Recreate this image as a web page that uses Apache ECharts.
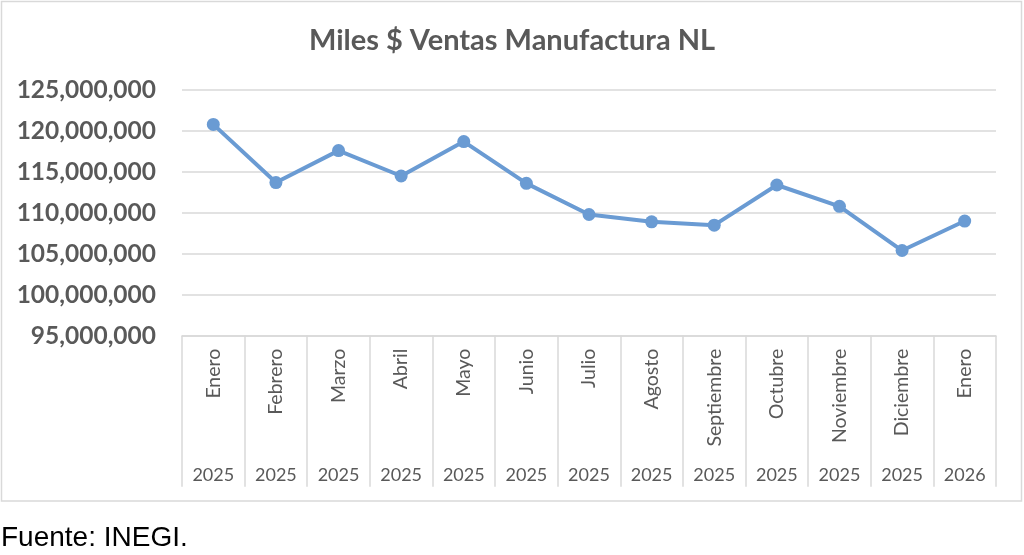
<!DOCTYPE html>
<html>
<head>
<meta charset="utf-8">
<script src="https://cdn.jsdelivr.net/npm/echarts@6/dist/echarts.min.js"></script>
<style>
html,body{margin:0;padding:0;background:#fff;}
#chart{width:1024px;height:555px;}
</style>
</head>
<body>
<div id="chart"></div>
<script>
const months = ["Enero","Febrero","Marzo","Abril","Mayo","Junio","Julio","Agosto","Septiembre","Octubre","Noviembre","Diciembre","Enero"];
const years = ["2025","2025","2025","2025","2025","2025","2025","2025","2025","2025","2025","2025","2026"];
const ventas = [120800000,113700000,117600000,114500000,118700000,113600000,109800000,108900000,108500000,113400000,110800000,105400000,109000000];
const yTicks = {min:95000000, max:125000000, interval:5000000};
const titleText = "Miles $ Ventas Manufactura NL";
const sourceText = "Fuente: INEGI.";

const chart = echarts.init(document.getElementById('chart'), null, {renderer:'canvas'});
const gray = '#595959';
const lineGray = '#d9d9d9';
chart.setOption({
  animation:false,
  title:{
    text:titleText, left:'center', top:21,
    textStyle:{fontFamily:'Lato', fontWeight:'bold', fontSize:29, color:gray}
  },
  graphic:[
    {type:'rect', shape:{x:1.5,y:1.5,width:1020,height:499.5}, style:{fill:null, stroke:lineGray, lineWidth:1.5}, silent:true},
    {type:'text', left:1, top:524, style:{text:sourceText, font:'28px "Liberation Sans", Arial, sans-serif', fill:'#000'}}
  ],
  grid:{left:182, right:28, top:90, height:245.7, containLabel:false},
  xAxis:[
    {
      type:'category', data:months, boundaryGap:true,
      axisLine:{show:true, lineStyle:{color:lineGray, width:1.5}},
      axisTick:{show:true, length:151, lineStyle:{color:lineGray, width:1.5}},
      axisLabel:{rotate:90, margin:13, fontFamily:'Lato', fontSize:19.5, color:gray, interval:0}
    },
    {
      type:'category', data:years, position:'bottom', boundaryGap:true,
      axisLine:{show:false}, axisTick:{show:false},
      axisLabel:{margin:130, fontFamily:'Lato', fontSize:18, color:gray, interval:0}
    }
  ],
  yAxis:{
    type:'value', min:yTicks.min, max:yTicks.max, interval:yTicks.interval,
    axisLine:{show:false}, axisTick:{show:false},
    splitLine:{lineStyle:{color:lineGray, width:1.5}},
    axisLabel:{margin:26, fontFamily:'Lato', fontWeight:'bold', fontSize:24.5, color:gray,
      formatter:v=>v.toLocaleString('en-US')}
  },
  series:[{
    type:'line', data:ventas, xAxisIndex:0,
    symbol:'circle', symbolSize:13,
    lineStyle:{color:'#6a9bd3', width:4},
    itemStyle:{color:'#6a9bd3'}
  }]
});
</script>
</body>
</html>
